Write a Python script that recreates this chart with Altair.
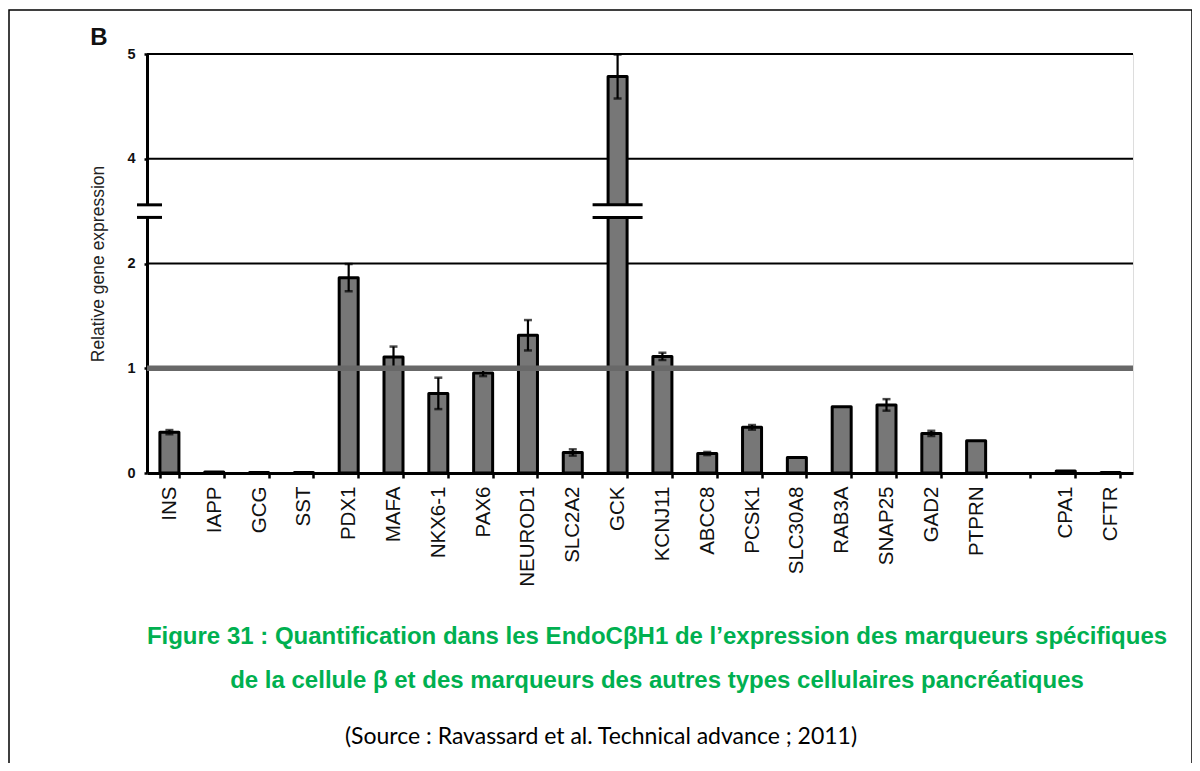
import altair as alt
import pandas as pd

genes = ["INS", "IAPP", "GCG", "SST", "PDX1", "MAFA", "NKX6-1", "PAX6", "NEUROD1",
         "SLC2A2", "GCK", "KCNJ11", "ABCC8", "PCSK1", "SLC30A8", "RAB3A", "SNAP25",
         "GAD2", "PTPRN", "CPA1", "CFTR"]
values = [0.39, 0.01, 0.005, 0.005, 1.865, 1.107, 0.76, 0.955, 1.315,
          0.196, 4.785, 1.113, 0.186, 0.436, 0.148, 0.633, 0.65,
          0.378, 0.307, 0.02, 0.004]
errors = [0.02, 0, 0, 0, 0.13, 0.10, 0.15, 0.03, 0.145,
          0.03, 0.21, 0.035, 0.015, 0.022, 0, 0, 0.055,
          0.025, 0, 0, 0]
gap_label = " "
x_order = genes[:19] + [gap_label] + genes[19:]
y_positions = [0, 1, 2, 3, 4]
grid_values = [2, 4, 5]
reference_value = [1]
break_low, break_high = 2.44, 2.56

panel_label = "B"
y_title = "Relative gene expression"
caption1 = "Figure 31 : Quantification dans les EndoCβH1 de l’expression des marqueurs spécifiques"
caption2 = "de la cellule β et des marqueurs des autres types cellulaires pancréatiques"
source = "(Source : Ravassard et al. Technical advance ; 2011)"

df = pd.DataFrame({"gene": genes, "value": values, "err": errors})


def disp(f):
    return f"datum.{f} > 2.5 ? datum.{f} - 1 : datum.{f}"


y_scale = alt.Scale(domain=[0, 4], nice=False, zero=True)
x_scale = alt.Scale(domain=x_order, paddingInner=0.576, paddingOuter=0.288)

x_axis = alt.Axis(title=None, labelAngle=-90, labelFontSize=20.5, labelColor="#111",
                  labelPadding=8, domainColor="black", domainWidth=3, tickColor="black",
                  tickWidth=2.5, tickSize=5, tickBand="extent", grid=False,
                  labelFont="Liberation Sans")
y_axis = alt.Axis(title=y_title, values=y_positions,
                  labelExpr="datum.value >= 3 ? datum.value + 1 : datum.value",
                  labelFontSize=14.5, labelFontWeight="bold", labelColor="#111",
                  labelPadding=9, tickSize=3, tickWidth=2.5, tickColor="black",
                  domainColor="black", domainWidth=3, grid=False,
                  titleFontSize=17.5, titleFontWeight="normal", titleColor="#222",
                  titlePadding=19, labelFont="Liberation Sans", titleFont="Liberation Sans")

base = alt.Chart(df).transform_calculate(
    lo="datum.value - datum.err", hi="datum.value + datum.err"
).transform_calculate(d=disp("value"), dlo=disp("lo"), dhi=disp("hi"))

grid = alt.Chart(pd.DataFrame({"g": grid_values})).transform_calculate(
    d=disp("g")).mark_rule(color="black", strokeWidth=1.8).encode(
    y=alt.Y("d:Q", scale=y_scale))

bars = base.mark_bar(fill="#777777", stroke="black", strokeWidth=3,
                     strokeJoin="round").encode(
    x=alt.X("gene:N", scale=x_scale, sort=x_order, axis=x_axis),
    y=alt.Y("d:Q", scale=y_scale, axis=y_axis),
)

eb = base.transform_filter("datum.err > 0")
err_rule = eb.mark_rule(color="black", strokeWidth=2.2).encode(
    x=alt.X("gene:N", sort=x_order), y="dlo:Q", y2="dhi:Q")
cap_hi = eb.mark_tick(color="black", size=8, thickness=2.5).encode(
    x=alt.X("gene:N", sort=x_order), y="dhi:Q")
cap_lo = eb.mark_tick(color="black", size=8, thickness=2.5).encode(
    x=alt.X("gene:N", sort=x_order), y="dlo:Q")

ref = alt.Chart(pd.DataFrame({"r": reference_value})).mark_rule(
    color="#686868", strokeWidth=5.5).encode(y="r:Q")

one = pd.DataFrame({"k": [0]})
axis_gap = alt.Chart(one).mark_rect(fill="white").encode(
    x=alt.value(-5), x2=alt.value(5), y=alt.datum(break_low), y2=alt.datum(break_high))
axis_brk1 = alt.Chart(one).mark_rule(color="black", strokeWidth=3).encode(
    x=alt.value(-10), x2=alt.value(15), y=alt.datum(break_low))
axis_brk2 = alt.Chart(one).mark_rule(color="black", strokeWidth=3).encode(
    x=alt.value(-10), x2=alt.value(15), y=alt.datum(break_high))
gck_gap = alt.Chart(one).mark_tick(color="white", size=28, thickness=12, opacity=1).encode(
    x=alt.datum("GCK"), y=alt.datum((break_low + break_high) / 2))
gck_brk1 = alt.Chart(one).mark_tick(color="black", size=50, thickness=3, opacity=1).encode(
    x=alt.datum("GCK"), y=alt.datum(break_low))
gck_brk2 = alt.Chart(one).mark_tick(color="black", size=50, thickness=3, opacity=1).encode(
    x=alt.datum("GCK"), y=alt.datum(break_high))

frame = alt.Chart(one).mark_rect(fillOpacity=0, stroke="black", strokeWidth=1.5).encode(
    x=alt.value(-138), x2=alt.value(1045), y=alt.value(-44), y2=alt.value(760))

txt_b = alt.Chart(one).mark_text(font="Liberation Sans", fontSize=24, fontWeight="bold",
                                 align="center", baseline="middle", color="#111").encode(
    x=alt.value(-48), y=alt.value(-16), text=alt.value(panel_label))
txt_c1 = alt.Chart(one).mark_text(font="Liberation Sans", fontSize=24, fontWeight="bold",
                                  align="center", baseline="middle", color="#00B050").encode(
    x=alt.value(510), y=alt.value(583), text=alt.value(caption1))
txt_c2 = alt.Chart(one).mark_text(font="Liberation Sans", fontSize=24, fontWeight="bold",
                                  align="center", baseline="middle", color="#00B050").encode(
    x=alt.value(510), y=alt.value(627), text=alt.value(caption2))
txt_s = alt.Chart(one).mark_text(font="Lato", fontSize=23, align="center",
                                 baseline="middle", color="black").encode(
    x=alt.value(454), y=alt.value(683), text=alt.value(source))

chart = alt.layer(
    grid, bars, err_rule, cap_hi, cap_lo, ref,
    axis_gap, axis_brk1, axis_brk2, gck_gap, gck_brk1, gck_brk2,
    frame, txt_b, txt_c1, txt_c2, txt_s,
).properties(
    width=986, height=419,
    autosize=alt.AutoSizeParams(type="none"),
    padding={"left": 139, "top": 46, "right": 59, "bottom": 290},
    background="white",
).configure_view(stroke=None).configure(font="Liberation Sans")

chart.save("out.html", embed_options={"renderer": "svg", "actions": False})
